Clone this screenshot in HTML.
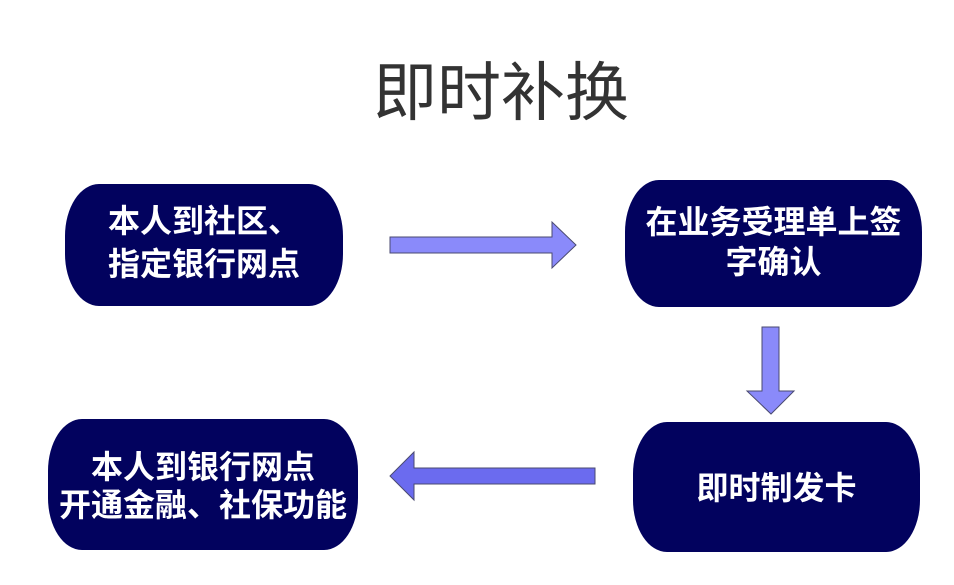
<!DOCTYPE html>
<html>
<head>
<meta charset="utf-8">
<style>
  html, body { margin:0; padding:0; }
  body { width:954px; height:585px; position:relative; background:#ffffff; overflow:hidden;
         font-family:"Liberation Sans","Noto Sans CJK SC","WenQuanYi Zen Hei",sans-serif; }
  .title { position:absolute; left:301px; width:400px; top:61px; text-align:center;
           font-size:64px; line-height:64px; color:#333333; font-weight:normal; }
  .box { position:absolute; background:#02025e; color:#ffffff; font-weight:bold; font-size:32px;
         display:flex; align-items:center; justify-content:center; text-align:center;
         border-radius:34px / 52px; white-space:nowrap; }
  .box span { display:block; position:relative; top:-2px; }
  svg { position:absolute; left:0; top:0; }
</style>
</head>
<body>
  <div class="title">即时补换</div>

  <div class="box" style="left:65px; top:184px; width:278px; height:122px; line-height:43px;">
    <span>本人到社区、<br>指定银行网点</span>
  </div>

  <div class="box" style="left:625px; top:180px; width:297px; height:127px; line-height:40px;">
    <span>在业务受理单上签<br>字确认</span>
  </div>

  <div class="box" style="left:633px; top:422px; width:287px; height:130px; line-height:40px;">
    <span style="top:1px;">即时制发卡</span>
  </div>

  <div class="box" style="left:48px; top:419px; width:310px; height:131px; line-height:38px;">
    <span style="top:1px;">本人到银行网点<br>开通金融、社保功能</span>
  </div>

  <svg width="954" height="585" viewBox="0 0 954 585">
    <polygon points="390,237 552,237 552,222 576,245 552,268 552,253 390,253"
             fill="#8a8afa" stroke="#4a4a70" stroke-width="1"/>
    <polygon points="762,327 779,327 779,391 794,391 771,414 747,391 762,391"
             fill="#8a8afa" stroke="#4a4a70" stroke-width="1"/>
    <polygon points="595,468 595,484 414,484 414,500 390,476 414,452 414,468"
             fill="#6b6bef" stroke="#4a4a70" stroke-width="1"/>
  </svg>
</body>
</html>
